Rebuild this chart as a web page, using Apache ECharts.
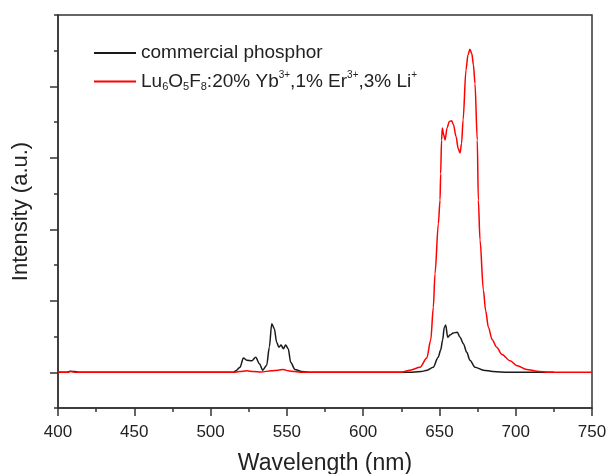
<!DOCTYPE html>
<html>
<head>
<meta charset="utf-8">
<script src="https://cdn.jsdelivr.net/npm/echarts@6/dist/echarts.min.js"></script>
<style>
  html, body { margin: 0; padding: 0; background: #fff; }
  #chart { width: 606px; height: 474px; }
</style>
</head>
<body>
<div id="chart"></div>
<script>
// commercial phosphor (black)
const commercialNm = [400, 406, 408, 411, 414, 500, 515, 516.5, 519.3, 521.5, 523.7, 527, 529.6, 532, 534.2, 536.8,
  538.5, 540.1, 541.8, 543.3, 544.8, 546.2, 547.7, 549.2, 550.9, 552.5, 555.3, 559.7, 566, 630, 638, 642,
  645.9, 649.2, 650.8, 652.1, 653.2, 654.1, 655.4, 656.9, 659.1, 661.7, 663.5, 665.7, 667.9, 670, 673.3,
  678.8, 685, 695, 725]
const commercialVal = [0, 0, 0.015, 0.01, 0, 0, 0, 0.02, 0.07, 0.2, 0.17, 0.16, 0.21, 0.12, 0.03, 0.1,
  0.35, 0.68, 0.61, 0.42, 0.35, 0.38, 0.33, 0.38, 0.33, 0.14, 0.04, 0.01, 0, 0, 0.01, 0.03,
  0.07, 0.21, 0.31, 0.45, 0.63, 0.66, 0.49, 0.52, 0.55, 0.56, 0.49, 0.4, 0.28, 0.17, 0.07,
  0.03, 0.01, 0, 0]

// Lu6O5F8 sample (red)
const sampleNm = [400, 406, 408, 412, 515, 519, 523.7, 528, 533, 540, 544.4, 547.7, 550.9, 555, 560, 625,
  630.7, 637.3, 641.7, 644.3, 646, 647.1, 649.3, 650.4, 650.8, 651.4, 651.9, 652.7, 653.7, 655, 656.5, 658,
  659.1, 660.9, 662.3, 663.5, 664.5, 665.5, 667.4, 668.7, 670, 671.2, 672.3, 673.3, 674.8, 675.5, 676.6,
  678.8, 680.3, 682.1, 684.5, 687.5, 691, 696.3, 701, 707.2, 714, 722, 750]
const sampleVal = [0, 0, 0.01, 0, 0, 0.01, 0.02, 0.01, 0.005, 0.02, 0.03, 0.04, 0.02, 0.01, 0, 0,
  0.03, 0.07, 0.2, 0.45, 0.91, 1.38, 2.08, 2.41, 2.78, 3.25, 3.42, 3.33, 3.25, 3.42, 3.51, 3.52,
  3.47, 3.3, 3.13, 3.07, 3.2, 3.53, 4.23, 4.44, 4.52, 4.46, 4.3, 4.04, 3.25, 2.41, 1.85,
  1.15, 0.86, 0.63, 0.46, 0.35, 0.25, 0.16, 0.09, 0.04, 0.015, 0, 0]

const xTicks = [400, 450, 500, 550, 600, 650, 700, 750]

const commercialName = "commercial phosphor"
const sampleName = "Lu6O5F8:20% Yb3+,1% Er3+,3% Li+"

const zip = (xs, ys) => xs.map((x, i) => [x, ys[i]])

const chart = echarts.init(document.getElementById("chart"))

const axisColor = "#333"
const font = "Arial, 'Liberation Sans', sans-serif"

chart.setOption({
  animation: false,
  grid: {
    left: 58,
    right: 14,
    top: 15,
    bottom: 66,
    outerBoundsMode: "none",
    containLabel: false,
    show: true,
    borderColor: axisColor,
    borderWidth: 1.5
  },
  legend: {
    orient: "vertical",
    left: 93,
    top: 42,
    padding: 0,
    itemWidth: 42,
    itemHeight: 22,
    itemGap: 6.5,
    itemStyle: { opacity: 0 },
    data: [commercialName, sampleName],
    textStyle: {
      fontFamily: font,
      fontSize: 19,
      lineHeight: 22,
      color: "#222",
      rich: {
        s: { fontSize: 11, lineHeight: 11, verticalAlign: "bottom", fontFamily: font, color: "#222" },
        p: { fontSize: 10, lineHeight: 10, verticalAlign: "top", fontFamily: font, color: "#222" }
      }
    },
    formatter: (name) => {
      if (name === sampleName) {
        return "Lu{s|6}O{s|5}F{s|8}:20% Yb{p|3+},1% Er{p|3+},3% Li{p|+}"
      }
      return name
    }
  },
  xAxis: {
    type: "value",
    min: 400,
    max: 750,
    interval: 50,
    name: "Wavelength (nm)",
    nameLocation: "middle",
    nameGap: 44,
    nameTextStyle: { fontFamily: font, fontSize: 23, color: "#222" },
    axisLine: { onZero: false, lineStyle: { color: axisColor, width: 1.5 } },
    axisTick: { length: 8, inside: false, lineStyle: { color: axisColor, width: 1.5 } },
    minorTick: { show: true, splitNumber: 2, length: 4, lineStyle: { color: axisColor, width: 1.5 } },
    axisLabel: {
      margin: 16,
      fontFamily: font,
      fontSize: 17,
      color: "#222",
      formatter: (v) => (xTicks.includes(v) ? String(v) : "")
    },
    splitLine: { show: false }
  },
  yAxis: {
    type: "value",
    min: -0.5,
    max: 5,
    interval: 1,
    name: "Intensity (a.u.)",
    nameLocation: "middle",
    nameGap: 26,
    nameTextStyle: { fontFamily: font, fontSize: 22, color: "#222" },
    axisLine: { onZero: false, lineStyle: { color: axisColor, width: 1.5 } },
    axisTick: { length: 4, inside: false, lineStyle: { color: axisColor, width: 1.5 } },
    minorTick: { show: true, splitNumber: 2, length: 8, lineStyle: { color: axisColor, width: 1.5 } },
    axisLabel: { show: false },
    splitLine: { show: false }
  },
  series: [
    {
      name: commercialName,
      type: "line",
      symbol: "none",
      smooth: 0.3,
      smoothMonotone: "x",
      data: zip(commercialNm, commercialVal),
      lineStyle: { color: "#1a1a1a", width: 1.5 },
      itemStyle: { color: "#1a1a1a" }
    },
    {
      name: sampleName,
      type: "line",
      symbol: "none",
      smooth: 0.3,
      smoothMonotone: "x",
      data: zip(sampleNm, sampleVal),
      lineStyle: { color: "#ff0000", width: 1.5 },
      itemStyle: { color: "#ff0000" }
    }
  ]
})
</script>
</body>
</html>
